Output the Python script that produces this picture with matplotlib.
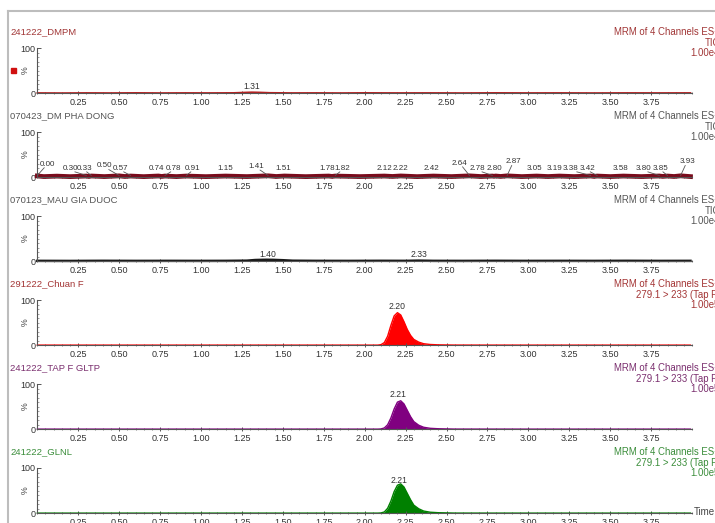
import numpy as np
import matplotlib.pyplot as plt
from matplotlib.lines import Line2D
from matplotlib.patches import Rectangle
from matplotlib.ticker import MultipleLocator

plt.rcParams['font.family'] = ['Liberation Sans', 'DejaVu Sans']

nombres = ["241222_DMPM", "070423_DM PHA DONG", "070123_MAU GIA DUOC",
           "291222_Chuan F", "241222_TAP F GLTP", "241222_GLNL"]
linea2 = ["TIC", "TIC", "TIC",
          "279.1 > 233 (Tap F)", "279.1 > 233 (Tap F)", "279.1 > 233 (Tap F)"]
linea3 = ["1.00e4", "1.00e4", "1.00e4", "1.00e5", "1.00e5", "1.00e5"]
color_texto = ["#a13636", "#555555", "#555555", "#a33434", "#7a2e6e", "#3a8d3a"]
color_traza = ["#b52020", "#7a0b1c", "#1a1a1a", "#ff0000", "#800080", "#008000"]

# panel 1
t1 = [0.00, 0.15, 0.30, 0.45, 0.60, 0.75, 0.90, 1.05, 1.20, 1.26, 1.31, 1.36, 1.42,
      1.55, 1.70, 1.85, 2.00, 2.20, 2.40, 2.60, 2.80, 3.00, 3.20, 3.40, 3.60, 3.80, 3.99]
y1 = [0.8, 0.6, 0.9, 0.7, 1.0, 0.7, 0.9, 0.8, 1.0, 1.8, 2.4, 2.0, 1.2,
      0.8, 0.9, 0.7, 1.0, 0.8, 0.9, 0.7, 1.0, 0.8, 0.9, 0.7, 0.9, 0.8, 0.9]

# panel 2 (ruido con muchos picos pequenos)
t2 = [0.00, 0.04, 0.12, 0.20, 0.30, 0.315, 0.33, 0.41, 0.50, 0.535, 0.57, 0.65, 0.74, 0.76,
      0.78, 0.85, 0.91, 1.03, 1.15, 1.28, 1.41, 1.46, 1.51, 1.64, 1.78, 1.80, 1.82, 1.97,
      2.12, 2.17, 2.22, 2.32, 2.42, 2.53, 2.64, 2.71, 2.78, 2.79, 2.80, 2.83, 2.87, 2.96,
      3.05, 3.12, 3.19, 3.28, 3.38, 3.40, 3.42, 3.50, 3.58, 3.69, 3.80, 3.82, 3.85, 3.89,
      3.93, 3.99]
y2 = [3.0, 1.6, 2.6, 1.5, 2.8, 1.8, 2.9, 1.6, 3.2, 1.8, 2.8, 1.5, 2.9, 1.9,
      2.8, 1.6, 2.8, 1.5, 2.8, 1.6, 3.3, 1.8, 2.9, 1.5, 2.8, 2.0, 2.8, 1.6,
      2.8, 1.9, 3.0, 1.5, 2.8, 1.6, 3.2, 1.7, 2.8, 2.2, 2.9, 1.9, 3.2, 1.6,
      2.8, 1.7, 2.8, 1.6, 2.9, 2.0, 2.8, 1.6, 2.8, 1.6, 2.9, 2.0, 2.8, 1.8,
      3.3, 1.6]
picos2 = ["0.00", "0.30", "0.33", "0.50", "0.57", "0.74", "0.78", "0.91", "1.15", "1.41",
          "1.51", "1.78", "1.82", "2.12", "2.22", "2.42", "2.64", "2.78", "2.80", "2.87",
          "3.05", "3.19", "3.38", "3.42", "3.58", "3.80", "3.85", "3.93"]
etiqueta_x2 = [0.06, 0.20, 0.29, 0.41, 0.51, 0.73, 0.83, 0.95, 1.15, 1.34,
               1.50, 1.77, 1.86, 2.12, 2.22, 2.41, 2.58, 2.69, 2.79, 2.91,
               3.04, 3.16, 3.26, 3.36, 3.56, 3.70, 3.81, 3.97]
etiqueta_y2 = [29, 20, 20, 25, 20, 20, 20, 20, 20, 24,
               20, 20, 20, 20, 20, 20, 31, 20, 20, 34,
               20, 20, 20, 20, 20, 20, 20, 34]

# panel 3
t3 = [0.00, 0.20, 0.40, 0.60, 0.80, 1.00, 1.15, 1.28, 1.33, 1.38, 1.40, 1.44, 1.50, 1.56,
      1.70, 1.90, 2.10, 2.25, 2.33, 2.42, 2.60, 2.80, 3.00, 3.20, 3.40, 3.60, 3.80, 3.99]
y3 = [1.0, 0.8, 1.1, 0.9, 1.0, 0.9, 1.0, 1.4, 2.8, 3.3, 3.4, 3.2, 2.4, 1.3,
      1.0, 0.9, 1.1, 1.0, 1.5, 1.0, 0.9, 1.1, 0.9, 1.0, 0.9, 1.1, 0.9, 1.0]

# paneles 4-6: pico de Tap F
t_pico = [0.00, 1.00, 2.00, 2.08, 2.10, 2.12, 2.14, 2.16, 2.18, 2.20, 2.22, 2.24, 2.26,
          2.28, 2.30, 2.33, 2.36, 2.40, 2.45, 2.55, 3.00, 3.99]
y4 = [0.4, 0.4, 0.4, 0.4, 1.5, 6, 20, 44, 65, 72, 67, 52, 35,
      22, 13, 7, 3.5, 1.8, 1.0, 0.5, 0.4, 0.4]
y5 = [0.4, 0.4, 0.4, 0.4, 0.8, 3, 10, 25, 45, 60, 63, 56, 42,
      28, 17, 9, 4.5, 2.2, 1.2, 0.5, 0.4, 0.4]
y6 = [0.4, 0.4, 0.4, 0.4, 0.8, 3, 11, 27, 48, 62, 65, 58, 44,
      30, 18, 10, 5, 2.4, 1.3, 0.5, 0.4, 0.4]

tiempos = [t1, t2, t3, t_pico, t_pico, t_pico]
senales = [y1, y2, y3, y4, y5, y6]
relleno = [False, False, False, True, True, True]
grosor = [1.2, 3.4, 1.8, 1.0, 1.0, 1.0]

# etiquetas de picos (panel, texto, x, y)
etiquetas = [(0, "1.31", 1.31, 16), (2, "1.40", 1.41, 15.5), (2, "2.33", 2.33, 16),
             (3, "2.20", 2.20, 85), (4, "2.21", 2.205, 76), (5, "2.21", 2.21, 72)]

W, H = 715, 523
fig = plt.figure(figsize=(7.15, 5.23), dpi=100)


def fx(px):
    return px / W


def fy(py):
    return 1 - py / H


x0, escala = 37.3, 163.7
for i in range(6):
    cero = 93.3 + 84 * i
    ax = fig.add_axes([fx(x0), fy(cero), 4 * escala / W, 45.3 / H])
    t, y = tiempos[i], senales[i]
    if relleno[i]:
        ax.fill_between(t, 0, y, color=color_traza[i], lw=0)
    ax.plot(t, y, color=color_traza[i], lw=grosor[i], clip_on=False)
    ax.set_xlim(0, 4.0)
    ax.set_ylim(0, 100)
    for s in ["top", "right"]:
        ax.spines[s].set_visible(False)
    ax.spines["left"].set_color("#555555")
    ax.spines["bottom"].set_color("#555555")
    ax.spines["left"].set_linewidth(0.8)
    ax.spines["bottom"].set_linewidth(0.8)
    ax.set_xticks(np.arange(0.25, 3.76, 0.25))
    ax.set_xticklabels([f"{v:.2f}" for v in np.arange(0.25, 3.76, 0.25)])
    ax.xaxis.set_minor_locator(MultipleLocator(0.05))
    ax.set_yticks([0, 100])
    ax.yaxis.set_minor_locator(MultipleLocator(10))
    ax.tick_params(axis="x", which="major", direction="inout", length=3.5, width=0.7,
                   labelsize=6.5, pad=1.5, colors="#555555", labelcolor="#333333")
    ax.tick_params(axis="x", which="minor", direction="inout", length=2, width=0.5,
                   colors="#555555")
    ax.tick_params(axis="y", which="major", direction="in", length=3, width=0.7,
                   labelsize=6.5, pad=1.5, colors="#555555", labelcolor="#333333")
    ax.tick_params(axis="y", which="minor", direction="in", length=1.5, width=0.5,
                   colors="#777777")
    ax.set_ylabel("%", fontsize=6.3, color="#444444")
    ax.yaxis.set_label_coords(-0.011, 0.5)
    ax.patch.set_alpha(0)

    # titulos y textos de la derecha
    fig.text(fx(10), fy(32 + 84 * i), nombres[i], fontsize=6.8, color=color_texto[i],
             va="center", ha="left")
    for k, txt in enumerate(["MRM of 4 Channels ES+", linea2[i], linea3[i]]):
        fig.text(fx(720), fy(32 + 10.7 * k + 84 * i), txt, fontsize=6.9,
                 color=color_texto[i], va="center", ha="right")

    if i == 1:
        for txt, rt, ex, ey in zip(picos2, [float(p) for p in picos2], etiqueta_x2, etiqueta_y2):
            ax.text(ex, ey, txt, fontsize=5.8, color="#333333", ha="center", va="center")
            if abs(ex - rt) > 0.03 or ey > 22:
                ax.plot([ex + 0.3 * (rt - ex), rt], [ey - 8, 4], color="#555555", lw=0.6)
    for p, txt, ex, ey in etiquetas:
        if p == i:
            ax.text(ex, ey, txt, fontsize=6.2, color="#333333", ha="center", va="center")

# marcador rojo y marco gris
fig.patches.append(Rectangle((fx(11), fy(73)), 5 / W, 5 / H, transform=fig.transFigure,
                             color="#d01010"))
fig.lines.append(Line2D([fx(8), 1], [fy(11), fy(11)], transform=fig.transFigure,
                        color="#bdbdbd", lw=1.5))
fig.lines.append(Line2D([fx(8), fx(8)], [fy(11), 0], transform=fig.transFigure,
                        color="#bdbdbd", lw=1.5))
fig.text(fx(694), fy(512), "Time", fontsize=7.0, color="#444444", va="center", ha="left")

fig.savefig("out.png", dpi=100)
